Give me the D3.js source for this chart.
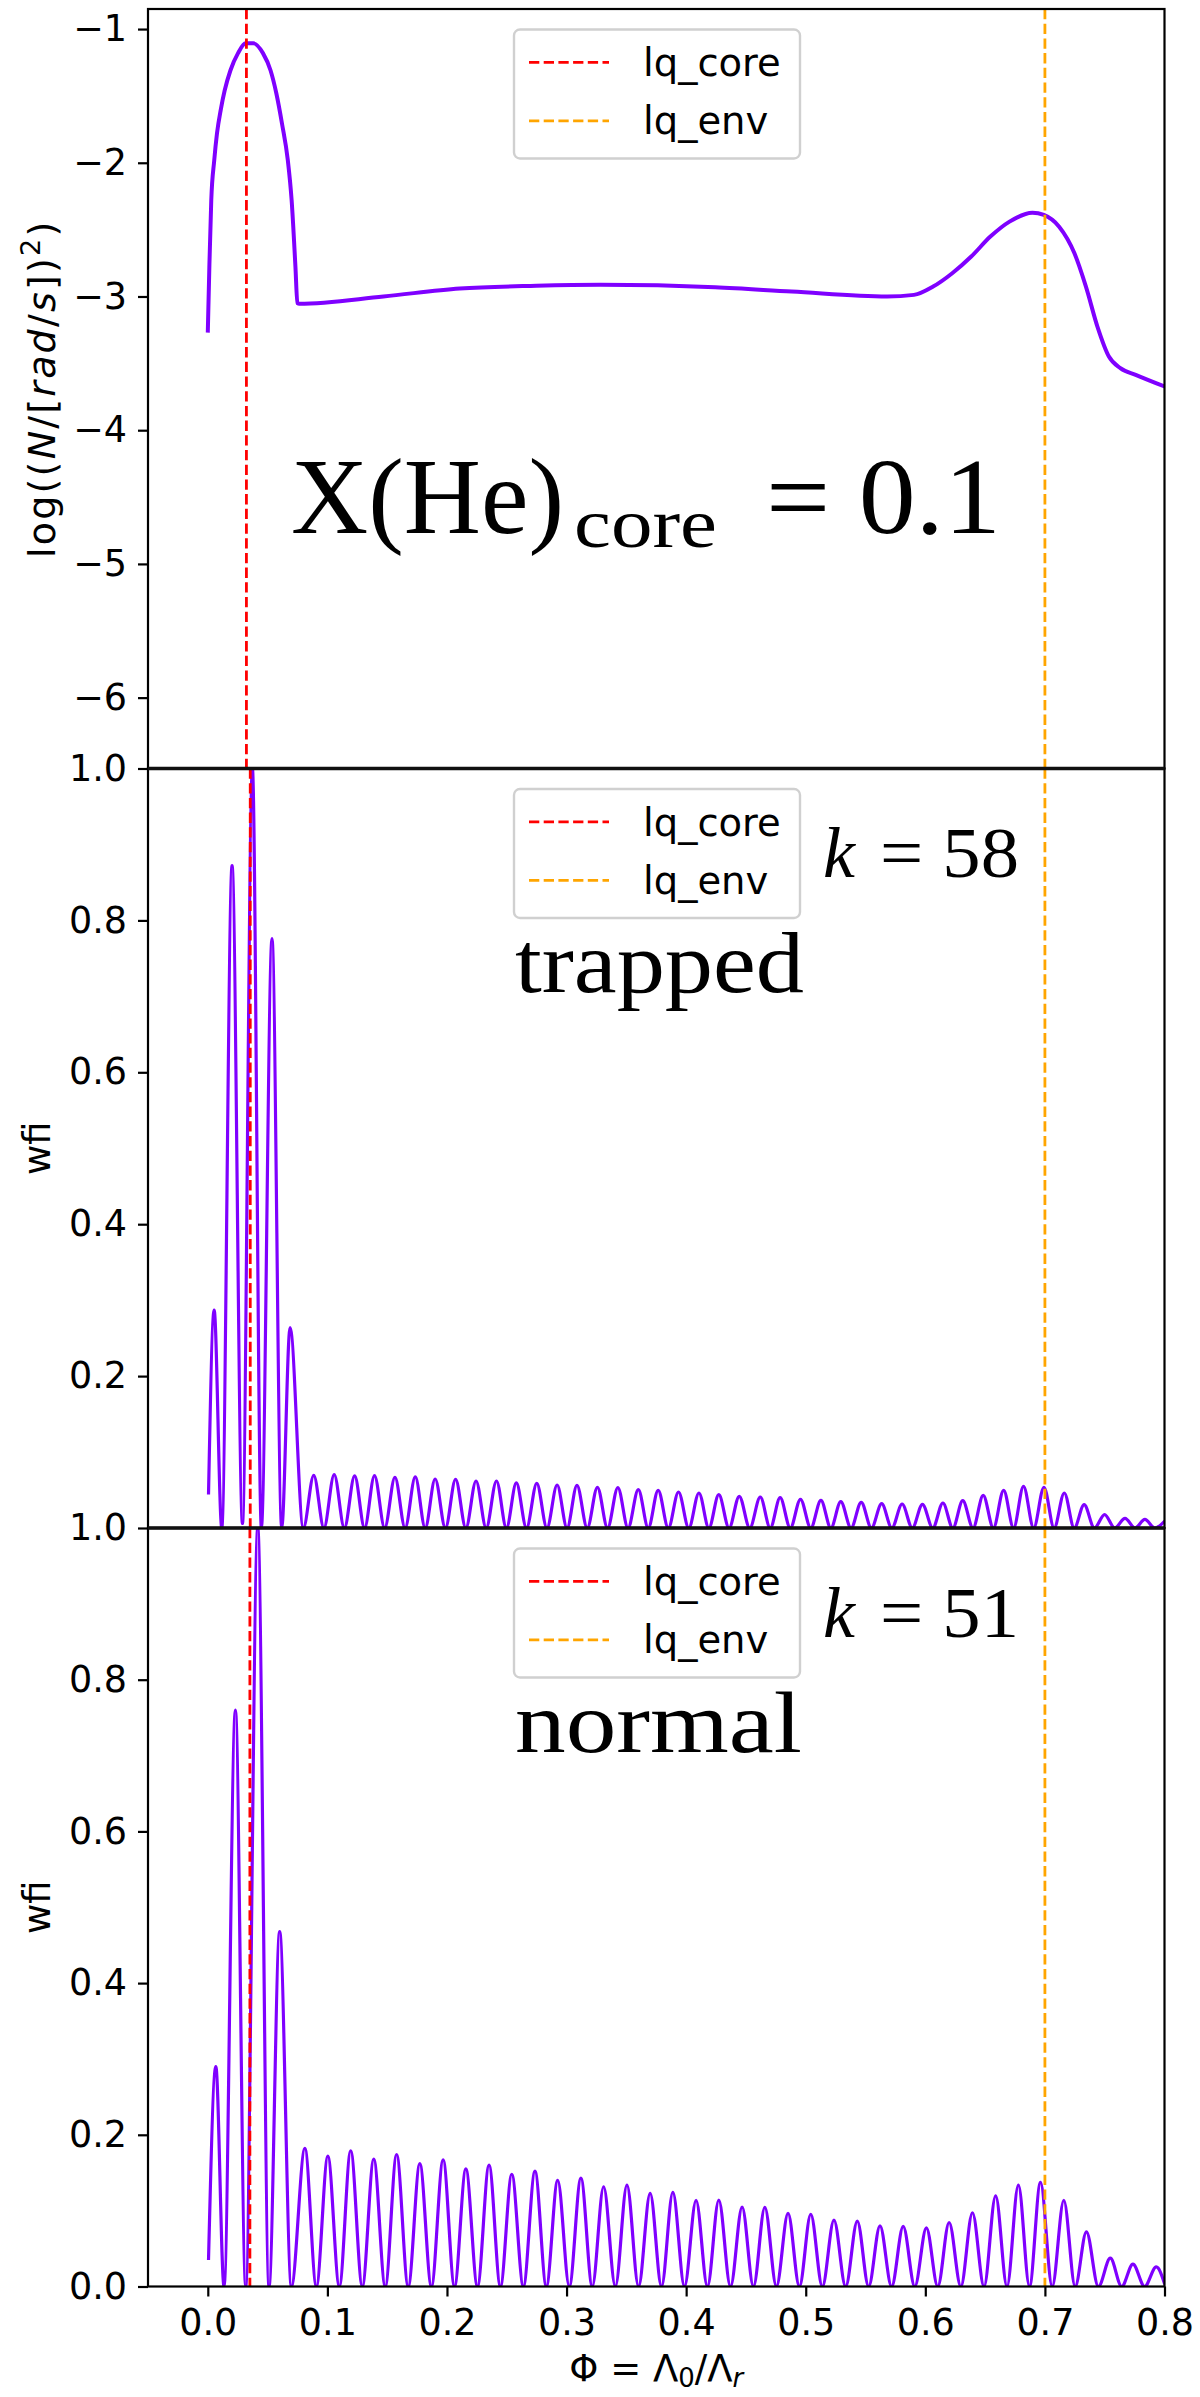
<!DOCTYPE html>
<html><head><meta charset="utf-8">
<script src="https://cdn.jsdelivr.net/npm/d3@7"></script>
<style>body{margin:0;background:#fff} svg{display:block}</style>
</head><body><svg id="c" width="1200" height="2397"></svg>
<script>
// ---------------- data ----------------
const xTicks = [0.0, 0.1, 0.2, 0.3, 0.4, 0.5, 0.6, 0.7, 0.8];
const n2Ticks = [-1, -2, -3, -4, -5, -6];
const wfiTicksMid = [0.2, 0.4, 0.6, 0.8, 1.0];
const wfiTicksBot = [0.0, 0.2, 0.4, 0.6, 0.8, 1.0];
const legendLabels = ["lq_core", "lq_env"];
const lqCore = [0.0323, 0.0355, 0.0352];   // per panel
const lqEnv = [0.700, 0.700, 0.700];

const n2X = [0, 0.0013, 0.0029, 0.0054, 0.0077, 0.0109, 0.0141, 0.0189, 0.0253, 0.0317, 0.0381, 0.0461, 0.0525, 0.0573, 0.0621, 0.0669, 0.0701, 0.0733, 0.0749, 0.0765, 0.1469, 0.2107, 0.2747, 0.3283, 0.4242, 0.4883, 0.5681, 0.5905, 0.6065, 0.6225, 0.6384, 0.6544, 0.6704, 0.6896, 0.6991, 0.7119, 0.7247, 0.7343, 0.7439, 0.7535, 0.7631, 0.7759, 0.8];
const n2Y = [-3.27, -2.78, -2.28, -1.98, -1.78, -1.60, -1.46, -1.31, -1.18, -1.107, -1.107, -1.18, -1.31, -1.48, -1.71, -1.98, -2.28, -2.78, -3.05, -3.055, -3.00, -2.94, -2.92, -2.913, -2.931, -2.963, -3.00, -2.988, -2.926, -2.826, -2.701, -2.552, -2.44, -2.373, -2.39, -2.478, -2.677, -2.926, -3.225, -3.449, -3.536, -3.586, -3.673];

const trappedX = [0.0006, 0.0053, 0.0117, 0.0203, 0.0290, 0.0373, 0.0448, 0.0537, 0.0618, 0.0688, 0.0799,
  0.0886, 0.0971, 0.1057, 0.1142, 0.1228, 0.1311, 0.1394, 0.1479, 0.1565, 0.1650, 0.1735, 0.1818, 0.1901, 0.1987,
  0.2072, 0.2158, 0.2243, 0.2328, 0.2414, 0.2497, 0.2580, 0.2665, 0.2751, 0.2836, 0.2921, 0.3004, 0.3087, 0.3173,
  0.3258, 0.3343, 0.3429, 0.3514, 0.3600, 0.3683, 0.3766, 0.3851, 0.3936, 0.4022, 0.4107, 0.4190, 0.4273, 0.4359,
  0.4444, 0.4532, 0.4620, 0.4703, 0.4786, 0.4871, 0.4956, 0.5042, 0.5127, 0.5210, 0.5293, 0.5379, 0.5464, 0.5549,
  0.5635, 0.5720, 0.5806, 0.5891, 0.5976, 0.6062, 0.6147, 0.6230, 0.6313, 0.6399, 0.6484, 0.6569, 0.6655, 0.6738,
  0.6821, 0.6906, 0.6992, 0.7077, 0.7162, 0.7245, 0.7328, 0.7414, 0.7499, 0.7584, 0.7670, 0.7753, 0.7836, 0.7919, 0.8002];
const trappedY = [0.044, 0.287, 0.0, 0.872, 0.006, 1.0, 0.0, 0.776, 0.0, 0.264, 0.0,
  0.0694, 0, 0.0702, 0, 0.0685, 0, 0.0689, 0, 0.0667, 0, 0.0672, 0, 0.0645, 0,
  0.0641, 0, 0.0619, 0, 0.0619, 0, 0.0593, 0, 0.0588, 0, 0.0566, 0, 0.0562, 0,
  0.0536, 0, 0.0531, 0, 0.0505, 0, 0.0496, 0, 0.0474, 0, 0.0461, 0, 0.0439, 0,
  0.0417, 0, 0.0408, 0, 0.0399, 0, 0.0378, 0, 0.0364, 0, 0.0347, 0, 0.0338, 0,
  0.0320, 0, 0.0316, 0, 0.0312, 0, 0.0329, 0, 0.0360, 0, 0.0430, 0, 0.0496, 0,
  0.0549, 0, 0.0536, 0, 0.0461, 0, 0.0307, 0, 0.0176, 0, 0.0127, 0, 0.0114, 0, 0.0092];

const normalX = [0.0006, 0.0067, 0.0136, 0.0231, 0.0317, 0.0418, 0.0512, 0.0601, 0.0699,
  0.0812, 0.0908, 0.1004, 0.1100, 0.1195, 0.1292, 0.1388, 0.1484, 0.1579, 0.1676, 0.1773, 0.1870,
  0.1968, 0.2063, 0.2158, 0.2255, 0.2352, 0.2447, 0.2542, 0.2639, 0.2736, 0.2831, 0.2926, 0.3023,
  0.3120, 0.3215, 0.3310, 0.3408, 0.3505, 0.3602, 0.3699, 0.3794, 0.3889, 0.3986, 0.4083, 0.4178,
  0.4273, 0.4371, 0.4468, 0.4563, 0.4658, 0.4755, 0.4852, 0.4947, 0.5042, 0.5139, 0.5236, 0.5334,
  0.5431, 0.5526, 0.5621, 0.5718, 0.5815, 0.5912, 0.6009, 0.6104, 0.6199, 0.6297, 0.6394, 0.6491,
  0.6588, 0.6683, 0.6778, 0.6871, 0.6963, 0.7061, 0.7158, 0.7253, 0.7347, 0.7447, 0.7547, 0.7642,
  0.7736, 0.7834, 0.7931, 0.8002];
const normalY = [0.035, 0.290, 0, 0.760, 0, 1.0, 0, 0.468, 0,
  0.182, 0, 0.172, 0, 0.179, 0, 0.168, 0, 0.174, 0, 0.162, 0,
  0.167, 0, 0.155, 0, 0.160, 0, 0.148, 0, 0.152, 0, 0.140, 0,
  0.143, 0, 0.1315, 0, 0.1337, 0, 0.1227, 0, 0.124, 0, 0.1135, 0,
  0.1139, 0, 0.1047, 0, 0.1042, 0, 0.0963, 0, 0.0950, 0, 0.0875, 0,
  0.0862, 0, 0.0800, 0, 0.0792, 0, 0.0774, 0, 0.0844, 0, 0.0972, 0,
  0.1196, 0, 0.1337, 0, 0.1372, 0, 0.1135, 0, 0.0721, 0, 0.0374, 0,
  0.0295, 0, 0.0259, 0.003];

// ---------------- layout ----------------
const svg = d3.select("#c");
const L = 148, R = 1164.5;
const tops = [9, 768.5, 1528], bots = [768.5, 1528, 2286.5];
const x = d3.scaleLinear().domain([-0.05, 0.8]).range([L, R]);
const ys = [
  d3.scaleLinear().domain([-6.53, -0.85]).range([bots[0], tops[0]]),
  d3.scaleLinear().domain([0, 1]).range([bots[1], tops[1]]),
  d3.scaleLinear().domain([0, 1]).range([bots[2], tops[2]])
];
const purple = "#7f00ff";
const sans = "DejaVu Sans";
const serif = "Liberation Serif";

const defs = svg.append("defs");
tops.forEach((t, i) => {
  defs.append("clipPath").attr("id", "clip" + i)
    .append("rect").attr("x", L).attr("y", t).attr("width", R - L).attr("height", bots[i] - t);
});

const series = [
  {xs: n2X, vs: n2Y, w: 4},
  {xs: trappedX, vs: trappedY, w: 3.2},
  {xs: normalX, vs: normalY, w: 3.2}
];

function legend(g, top) {
  const bx = 514, by = top + 20.5;
  g.append("rect").attr("x", bx).attr("y", by).attr("width", 286).attr("height", 129)
    .attr("rx", 6).attr("fill", "#fff").attr("fill-opacity", 0.8)
    .attr("stroke", "#d0d0d0").attr("stroke-width", 2.4);
  const cols = ["#ff0000", "#ffa500"];
  legendLabels.forEach((lab, j) => {
    const ly = top + 53.4 + j * 58.4;
    g.append("line").attr("x1", 529).attr("x2", 609).attr("y1", ly).attr("y2", ly)
      .attr("stroke", cols[j]).attr("stroke-width", 2.8).attr("stroke-dasharray", "10.3,4.4");
    g.append("text").attr("x", 643).attr("y", ly + 13.6).text(lab)
      .attr("font-family", sans).attr("font-size", 38.5).attr("fill", "#000");
  });
}

for (let i = 0; i < 3; i++) {
  const y = ys[i];
  const g = svg.append("g");
  const s = series[i];
  const pts = s.xs.map((v, k) => [v, s.vs[k]]);
  const line = d3.line().x(d => x(d[0])).y(d => y(d[1])).curve(d3.curveMonotoneX);
  g.append("path").attr("d", line(pts)).attr("clip-path", `url(#clip${i})`)
    .attr("fill", "none").attr("stroke", purple).attr("stroke-width", s.w)
    .attr("stroke-linejoin", "round");
  [[lqCore[i], "#ff0000"], [lqEnv[i], "#ffa500"]].forEach(([v, c]) => {
    g.append("line").attr("x1", x(v)).attr("x2", x(v)).attr("y1", tops[i]).attr("y2", bots[i])
      .attr("stroke", c).attr("stroke-width", 2.8).attr("stroke-dasharray", "10.3,4.4");
  });
  legend(g, tops[i]);

  const tv = i === 0 ? n2Ticks : (i === 1 ? wfiTicksMid : wfiTicksBot);
  const fmt = i === 0 ? (d => d3.format("d")(d).replace("-", "\u2212")) : d3.format(".1f");
  const ax = g.append("g").attr("transform", `translate(${L},0)`)
    .call(d3.axisLeft(y).tickValues(tv).tickFormat(fmt).tickSize(10).tickPadding(11).tickSizeOuter(0));
  ax.select(".domain").remove();
  ax.selectAll("line").attr("stroke", "#000").attr("stroke-width", 2.2);
  ax.selectAll("text").attr("font-family", sans).attr("font-size", 36.5).attr("fill", "#000");

  g.append("rect").attr("x", L).attr("y", tops[i]).attr("width", R - L).attr("height", bots[i] - tops[i])
    .attr("fill", "none").attr("stroke", "#000").attr("stroke-width", 2.2);
}
[bots[0], bots[1]].forEach(v => {
  svg.append("line").attr("x1", L).attr("x2", R).attr("y1", v).attr("y2", v)
    .attr("stroke", "#111").attr("stroke-width", 3.4);
});

const xa = svg.append("g").attr("transform", `translate(0,${bots[2]})`)
  .call(d3.axisBottom(x).tickValues(xTicks).tickFormat(d3.format(".1f")).tickSize(10).tickPadding(13).tickSizeOuter(0));
xa.select(".domain").remove();
xa.selectAll("line").attr("stroke", "#000").attr("stroke-width", 2.2);
xa.selectAll("text").attr("font-family", sans).attr("font-size", 36.5).attr("fill", "#000");

const xl = svg.append("text").attr("x", (L + R) / 2).attr("y", 2381).attr("text-anchor", "middle")
  .attr("font-family", sans).attr("font-size", 37).attr("fill", "#000");
xl.append("tspan").text("\u03A6 = \u039B");
xl.append("tspan").text("0").attr("font-size", 26).attr("dy", 6);
xl.append("tspan").text("/\u039B").attr("dy", -6);
xl.append("tspan").text("r").attr("font-size", 26).attr("font-style", "italic").attr("dy", 6);

function ylab(cy, bx) {
  return svg.append("text").attr("transform", `translate(${bx},${cy}) rotate(-90)`)
    .attr("text-anchor", "middle").attr("font-family", sans).attr("font-size", 37).attr("fill", "#000");
}
const yl1 = ylab((tops[0] + bots[0]) / 2, 55).attr("font-size", 38).attr("letter-spacing", 2.2);
yl1.append("tspan").text("log((");
yl1.append("tspan").text("N").attr("font-style", "italic");
yl1.append("tspan").text("/[");
yl1.append("tspan").text("rad").attr("font-style", "italic");
yl1.append("tspan").text("/");
yl1.append("tspan").text("s").attr("font-style", "italic");
yl1.append("tspan").text("])");
yl1.append("tspan").text("2").attr("font-size", 27).attr("dy", -15);
yl1.append("tspan").text(")").attr("dy", 15);
ylab((tops[1] + bots[1]) / 2, 50).text("wfi");
ylab((tops[2] + bots[2]) / 2, 50).text("wfi");

function stxt(xp, yp, str, size, len, italic) {
  const t = svg.append("text").attr("x", xp).attr("y", yp).text(str)
    .attr("font-family", serif).attr("font-size", size).attr("fill", "#000");
  if (len) t.attr("textLength", len).attr("lengthAdjust", "spacingAndGlyphs");
  if (italic) t.attr("font-style", "italic");
  return t;
}
stxt(291, 533, "X(He)", 107, 273);
stxt(574, 547, "core", 70, 143);
stxt(766, 533, "= 0.1", 107, 235);

const annY = [877, 1637], annK = ["= 58", "= 51"], annW = ["trapped", "normal"], annWy = [992, 1752], annWl = [289, 287];
for (let j = 0; j < 2; j++) {
  stxt(823, annY[j], "k", 72, null, true);
  stxt(880, annY[j], annK[j], 72, 139);
  stxt(515, annWy[j], annW[j], 86, annWl[j]);
}
</script></body></html>
